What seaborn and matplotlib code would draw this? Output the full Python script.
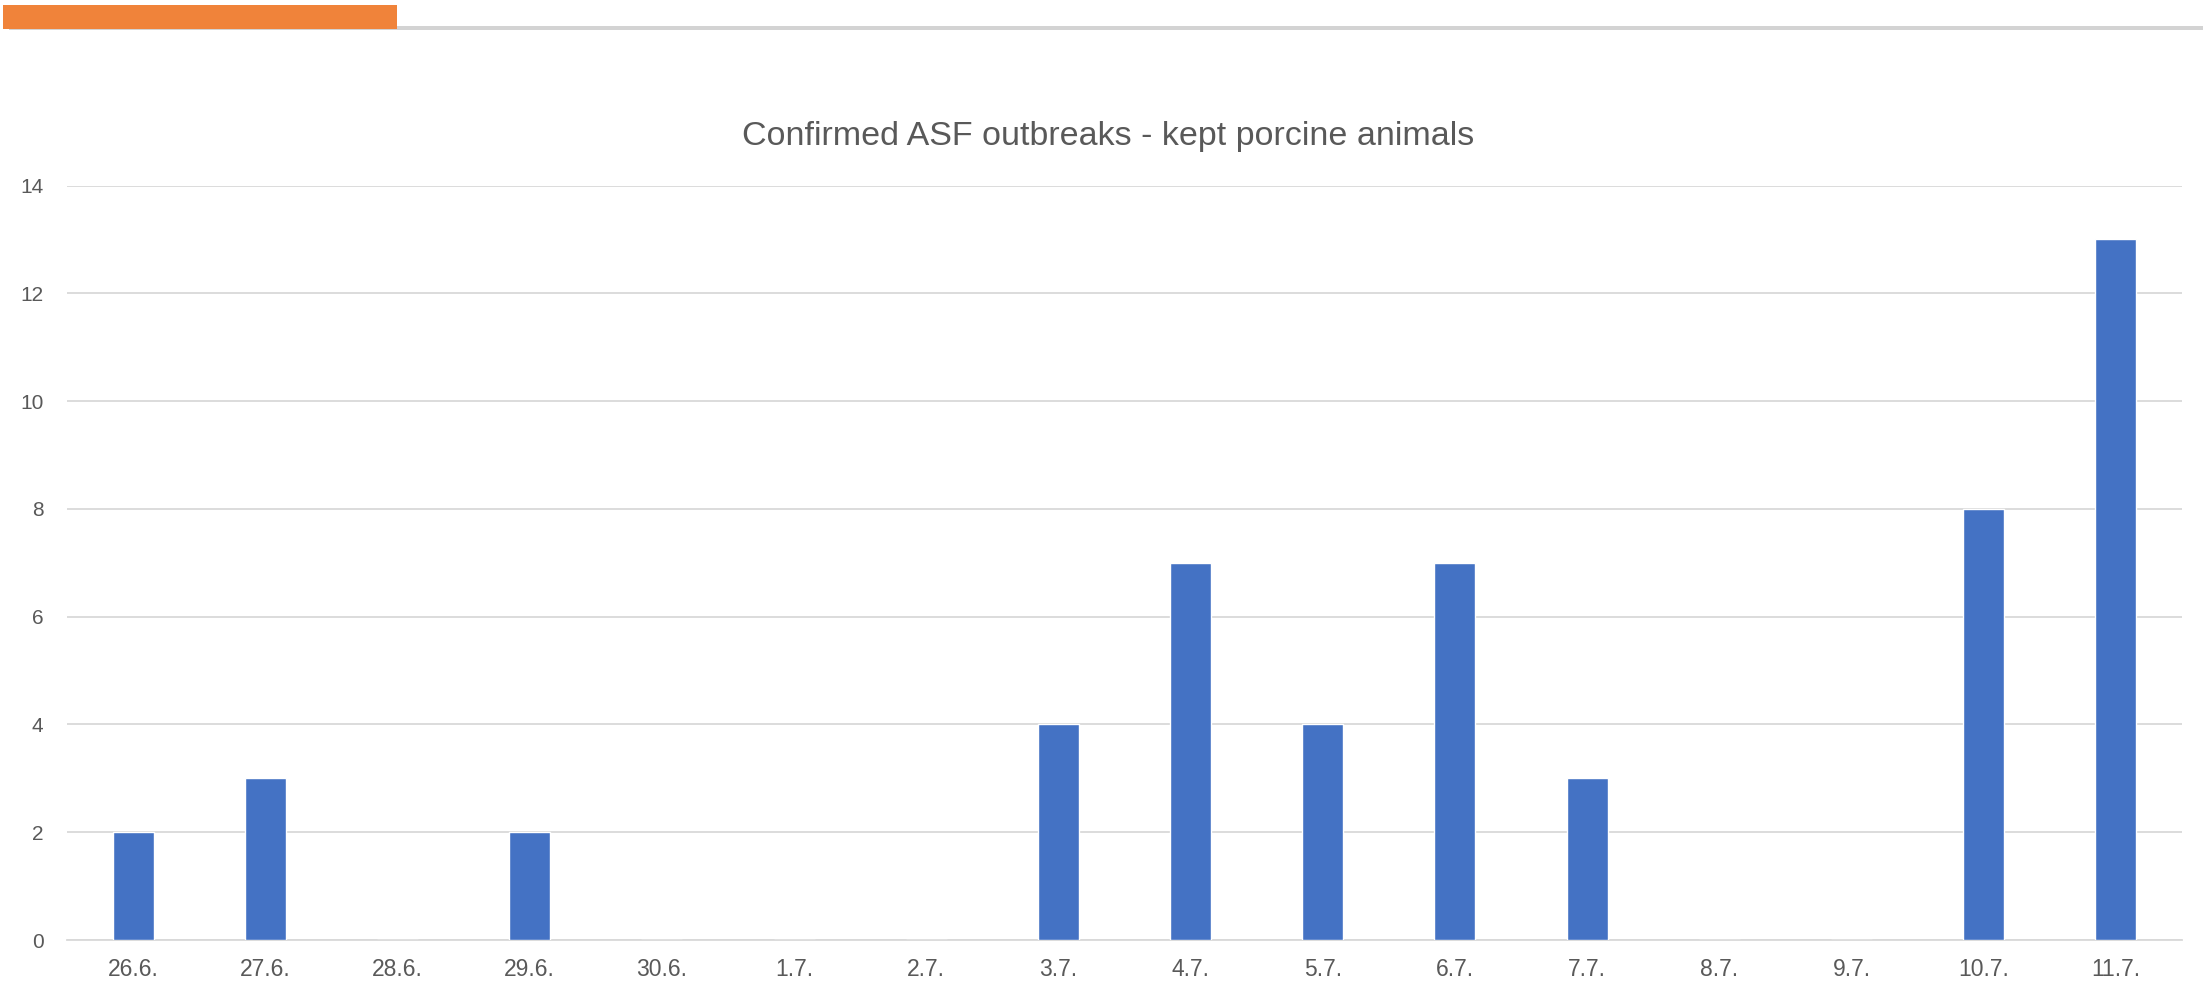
import matplotlib
matplotlib.use('Agg')
import matplotlib.pyplot as plt
import seaborn as sns
import pandas as pd

# data
dates = ['26.6.', '27.6.', '28.6.', '29.6.', '30.6.', '1.7.', '2.7.', '3.7.',
         '4.7.', '5.7.', '6.7.', '7.7.', '8.7.', '9.7.', '10.7.', '11.7.']
outbreaks = [2, 3, 0, 2, 0, 0, 0, 4, 7, 4, 7, 3, 0, 0, 8, 13]
y_ticks = [0, 2, 4, 6, 8, 10, 12, 14]

BAR_BLUE = '#4472C4'
GRID_GREY = '#D9D9D9'
TEXT_GREY = '#595959'
ORANGE = '#F0833A'

sns.set_theme(style='white')
plt.rcParams['font.family'] = ['Liberation Sans', 'DejaVu Sans']

df = pd.DataFrame({'date': dates, 'count': outbreaks})

fig = plt.figure(figsize=(22.03, 9.86), dpi=100)
W, H = 2203, 986

# header decoration: grey rule with orange tab
fig.add_artist(plt.Rectangle((9 / W, 1 - 30 / H), (W - 9) / W, 4 / H,
                             transform=fig.transFigure, color='#D3D3D3', lw=0))
fig.add_artist(plt.Rectangle((3 / W, 1 - 29 / H), 394 / W, 24 / H,
                             transform=fig.transFigure, color=ORANGE, lw=0))

ax = fig.add_axes([67 / W, 1 - 940 / H, (2182 - 67) / W, (940 - 185.5) / H])
sns.barplot(data=df, x='date', y='count', color=BAR_BLUE, width=0.31,
            saturation=1, ax=ax, zorder=3)

ax.set_ylim(0, 14)
ax.set_xlim(-0.5, len(dates) - 0.5)
ax.set_yticks(y_ticks)
ax.yaxis.grid(True, color=GRID_GREY, linewidth=1.3, zorder=0)
ax.xaxis.grid(False)
for side in ['top', 'right', 'left']:
    ax.spines[side].set_visible(False)
ax.spines['bottom'].set_color(GRID_GREY)
ax.spines['bottom'].set_linewidth(1.3)
ax.tick_params(axis='both', length=0, colors=TEXT_GREY)
ax.tick_params(axis='y', pad=17, labelsize=15)
ax.tick_params(axis='x', pad=13, labelsize=16.5)
ax.set_xlabel('')
ax.set_ylabel('')

fig.text(1108 / W, 1 - 137 / H, 'Confirmed ASF outbreaks - kept porcine animals',
         ha='center', va='center', fontsize=24.5, color=TEXT_GREY)

fig.savefig('out.png', dpi=100)
